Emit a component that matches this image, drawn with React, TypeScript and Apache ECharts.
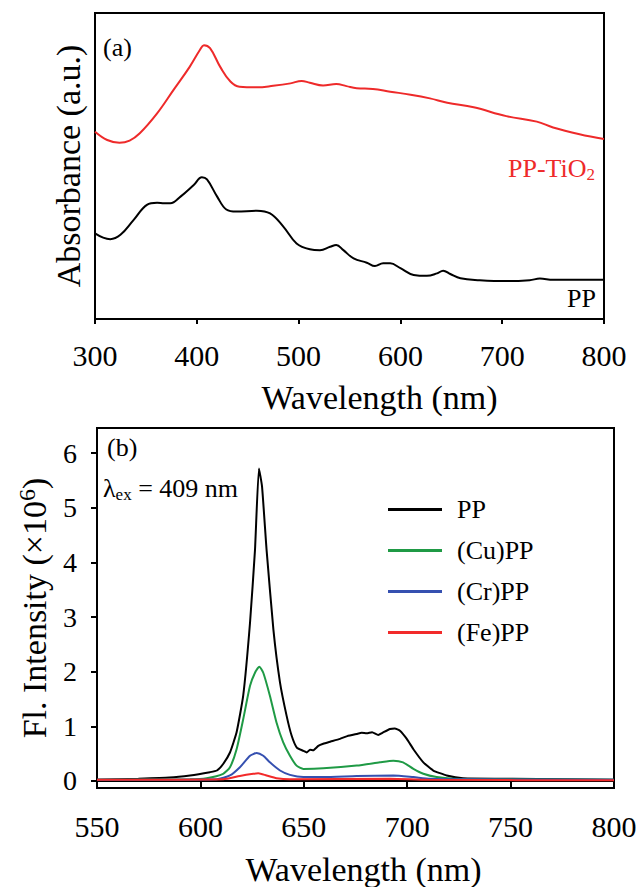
import React, { useEffect, useRef } from "react";
import * as echarts from "echarts";

const FONT = "Liberation Serif";

// Panel (a) absorbance (arbitrary units, 0..1 of plot height)
const absWlTiO2 = [300, 312, 324, 334, 344, 361, 377, 393, 403, 407, 413, 423, 433, 442, 459, 475, 492, 503, 511, 524, 537, 547, 557, 573, 590, 610, 629, 646, 672, 704, 734, 750, 776, 800];
const absTiO2 = [0.612, 0.585, 0.576, 0.583, 0.607, 0.672, 0.748, 0.824, 0.879, 0.895, 0.885, 0.824, 0.776, 0.759, 0.757, 0.762, 0.770, 0.778, 0.772, 0.763, 0.768, 0.761, 0.754, 0.752, 0.743, 0.733, 0.721, 0.707, 0.692, 0.663, 0.645, 0.626, 0.604, 0.588];

const absWlPP = [300, 308, 315, 325, 338, 351, 361, 368, 374, 384, 397, 405, 410, 420, 429, 439, 459, 472, 485, 498, 511, 521, 531, 537, 544, 554, 567, 575, 583, 590, 600, 613, 626, 636, 642, 649, 659, 678, 704, 727, 737, 750, 800];
const absPP = [0.280, 0.266, 0.261, 0.275, 0.324, 0.373, 0.380, 0.378, 0.378, 0.400, 0.438, 0.463, 0.456, 0.400, 0.358, 0.351, 0.354, 0.345, 0.302, 0.247, 0.228, 0.225, 0.236, 0.242, 0.225, 0.198, 0.184, 0.173, 0.182, 0.182, 0.166, 0.144, 0.141, 0.149, 0.158, 0.147, 0.133, 0.127, 0.124, 0.127, 0.132, 0.128, 0.128];

// Panel (b) fluorescence (x10^6)
const flWlPP = [550, 570, 585, 595, 604.6, 608, 611, 614.3, 617.5, 620.7, 624, 626.4, 628.3, 629.8, 632, 635.3, 638.5, 641.7, 644.1, 646.6, 649.8, 651.4, 653, 654.6, 657, 659.4, 663, 667.5, 671, 675.6, 678, 680.4, 683, 686, 688, 691.7, 694, 696.5, 699.8, 703, 707.8, 712.6, 719.1, 727, 751, 775, 800];
const flPP = [0.02, 0.04, 0.06, 0.10, 0.16, 0.19, 0.31, 0.52, 0.89, 1.56, 2.90, 4.23, 5.72, 5.39, 4.23, 2.77, 1.80, 1.19, 0.83, 0.61, 0.55, 0.52, 0.57, 0.56, 0.64, 0.68, 0.72, 0.77, 0.82, 0.86, 0.88, 0.87, 0.89, 0.84, 0.88, 0.95, 0.96, 0.92, 0.77, 0.58, 0.34, 0.19, 0.10, 0.05, 0.04, 0.03, 0.02];

const flWlCu = [550, 595, 603, 611, 614.3, 617.5, 620.7, 624, 626.4, 628.5, 630.4, 633.6, 636.8, 640, 643.3, 646.5, 649.8, 659.4, 675.6, 686.8, 693.3, 698, 703, 707.8, 714.2, 722.3, 751, 800];
const flCu = [0.02, 0.03, 0.05, 0.13, 0.25, 0.58, 1.13, 1.74, 1.98, 2.09, 1.98, 1.56, 1.07, 0.71, 0.46, 0.28, 0.22, 0.23, 0.28, 0.34, 0.37, 0.34, 0.22, 0.13, 0.07, 0.04, 0.03, 0.02];

const flWlCr = [550, 607.9, 614.3, 619.1, 624, 627.2, 630.4, 633.6, 638.5, 643.3, 649.8, 659.4, 675.6, 693.3, 703, 711, 730, 800];
const flCr = [0.02, 0.03, 0.10, 0.25, 0.46, 0.51, 0.46, 0.34, 0.19, 0.11, 0.07, 0.07, 0.09, 0.10, 0.07, 0.04, 0.03, 0.02];

const flWlFe = [550, 611, 619.1, 625.6, 628, 632, 636.8, 643.3, 691.7, 710, 800];
const flFe = [0.02, 0.03, 0.09, 0.13, 0.14, 0.10, 0.05, 0.03, 0.04, 0.02, 0.01];

const flYTicks = [0, 1, 2, 3, 4, 5, 6];
const legendNames = ["PP", "(Cu)PP", "(Cr)PP", "(Fe)PP"];

const RED_A = "#ee2a2a";
const GREEN = "#1f9a45";
const BLUE = "#3550b0";
const RED_B = "#f22a2a";

const zip = (xs: number[], ys: number[]) => xs.map((x, i) => [x, ys[i]]);

export default function App() {
  const ref = useRef<HTMLDivElement>(null);
  useEffect(() => {
    if (!ref.current) return;
    const chart = echarts.init(ref.current, undefined, { renderer: "svg" });
    const axisLine = { show: true, lineStyle: { color: "#000", width: 2 } };
    const line = (name: string, xi: number, data: number[][], color: string, smooth: number) => ({
      type: "line",
      name,
      xAxisIndex: xi,
      yAxisIndex: xi,
      data,
      showSymbol: false,
      symbol: "none",
      smooth,
      lineStyle: { color, width: 2 },
      itemStyle: { color },
      emphasis: { disabled: true },
    });
    chart.setOption({
      animation: false,
      textStyle: { fontFamily: FONT, color: "#000" },
      grid: [
        { left: 95, top: 13, width: 509, height: 306, show: true, borderColor: "#000", borderWidth: 2 },
        { left: 97, top: 428, width: 517, height: 361, show: true, borderColor: "#000", borderWidth: 2 },
      ],
      xAxis: [
        {
          gridIndex: 0, type: "value", min: 300, max: 800, interval: 100,
          axisLine, axisTick: { show: true, inside: false, length: 5, lineStyle: { color: "#000", width: 2 } },
          axisLabel: { fontSize: 30, fontFamily: FONT, color: "#000", margin: 21 },
          splitLine: { show: false },
          name: "Wavelength (nm)", nameLocation: "middle", nameGap: 61,
          nameTextStyle: { fontSize: 34, fontFamily: FONT, color: "#000", padding: [0, 0, 0, 60] },
        },
        {
          gridIndex: 1, type: "value", min: 550, max: 800, interval: 50,
          axisLine, axisTick: { show: true, inside: false, length: 6, lineStyle: { color: "#000", width: 2 } },
          axisLabel: { fontSize: 30, fontFamily: FONT, color: "#000", margin: 23 },
          splitLine: { show: false },
          name: "Wavelength (nm)", nameLocation: "middle", nameGap: 64,
          nameTextStyle: { fontSize: 34, fontFamily: FONT, color: "#000", padding: [0, 0, 0, 16] },
        },
      ],
      yAxis: [
        {
          gridIndex: 0, type: "value", min: 0, max: 1,
          axisLine, axisTick: { show: false }, axisLabel: { show: false }, splitLine: { show: false },
          name: "Absorbance (a.u.)", nameLocation: "middle", nameGap: 10, nameRotate: 90,
          nameTextStyle: { fontSize: 34, fontFamily: FONT, color: "#000" },
        },
        {
          gridIndex: 1, type: "value", min: -0.13, max: 6.46,
          axisLine,
          axisTick: { show: true, inside: false, length: 6, customValues: flYTicks, lineStyle: { color: "#000", width: 2 } },
          axisLabel: { fontSize: 28, fontFamily: FONT, color: "#000", margin: 20, customValues: flYTicks },
          splitLine: { show: false },
          name: "{m|Fl. Intensity (×10}{sup|6}{m|)}", nameLocation: "middle", nameGap: 44, nameRotate: 90,
          nameTextStyle: {
            fontSize: 34, fontFamily: FONT, color: "#000",
            rich: {
              m: { fontSize: 34, fontFamily: FONT, color: "#000", lineHeight: 38 },
              sup: { fontSize: 24, fontFamily: FONT, color: "#000", lineHeight: 24, verticalAlign: "top" },
            },
          },
        },
      ],
      legend: {
        data: legendNames,
        orient: "vertical",
        left: 383,
        top: 491,
        itemWidth: 54,
        itemHeight: 3,
        itemGap: 14,
        icon: "rect",
        selectedMode: false,
        textStyle: { fontSize: 26, fontFamily: FONT, color: "#000", lineHeight: 27, padding: [0, 0, 0, 10] },
      },
      graphic: [
        { type: "text", x: 103, y: 47, style: { text: "(a)", fontSize: 26, fontFamily: FONT, fill: "#000", verticalAlign: "middle", textVerticalAlign: "middle" } },
        {
          type: "text", x: 508, y: 168,
          style: {
            text: "{m|PP-TiO}{s|2}", fill: RED_A, fontSize: 26, fontFamily: FONT,
            verticalAlign: "middle", textVerticalAlign: "middle",
            rich: {
              m: { fontSize: 26, fontFamily: FONT, fill: RED_A, color: RED_A, lineHeight: 30 },
              s: { fontSize: 17, fontFamily: FONT, fill: RED_A, color: RED_A, lineHeight: 17, verticalAlign: "bottom" },
            },
          },
        },
        { type: "text", x: 596, y: 298, style: { text: "PP", fontSize: 26, fontFamily: FONT, fill: "#000", align: "right", textAlign: "right", verticalAlign: "middle", textVerticalAlign: "middle" } },
        { type: "text", x: 107, y: 447, style: { text: "(b)", fontSize: 26, fontFamily: FONT, fill: "#000", verticalAlign: "middle", textVerticalAlign: "middle" } },
        {
          type: "text", x: 103, y: 488,
          style: {
            text: "{m|λ}{s|ex}{m| = 409 nm}", fill: "#000", fontSize: 26, fontFamily: FONT,
            verticalAlign: "middle", textVerticalAlign: "middle",
            rich: {
              m: { fontSize: 26, fontFamily: FONT, fill: "#000", color: "#000", lineHeight: 30 },
              s: { fontSize: 17, fontFamily: FONT, fill: "#000", color: "#000", lineHeight: 17, verticalAlign: "bottom" },
            },
          },
        },
      ],
      series: [
        line("PP-TiO2", 0, zip(absWlTiO2, absTiO2), RED_A, 0.4),
        line("PP", 0, zip(absWlPP, absPP), "#000", 0.4),
        line("PP", 1, zip(flWlPP, flPP), "#000", 0.15),
        line("(Cu)PP", 1, zip(flWlCu, flCu), GREEN, 0.2),
        line("(Cr)PP", 1, zip(flWlCr, flCr), BLUE, 0.2),
        line("(Fe)PP", 1, zip(flWlFe, flFe), RED_B, 0.2),
      ],
    });
    return () => chart.dispose();
  }, []);
  return <div ref={ref} style={{ position: "absolute", left: 0, top: 0, width: 640, height: 887 }} />;
}
